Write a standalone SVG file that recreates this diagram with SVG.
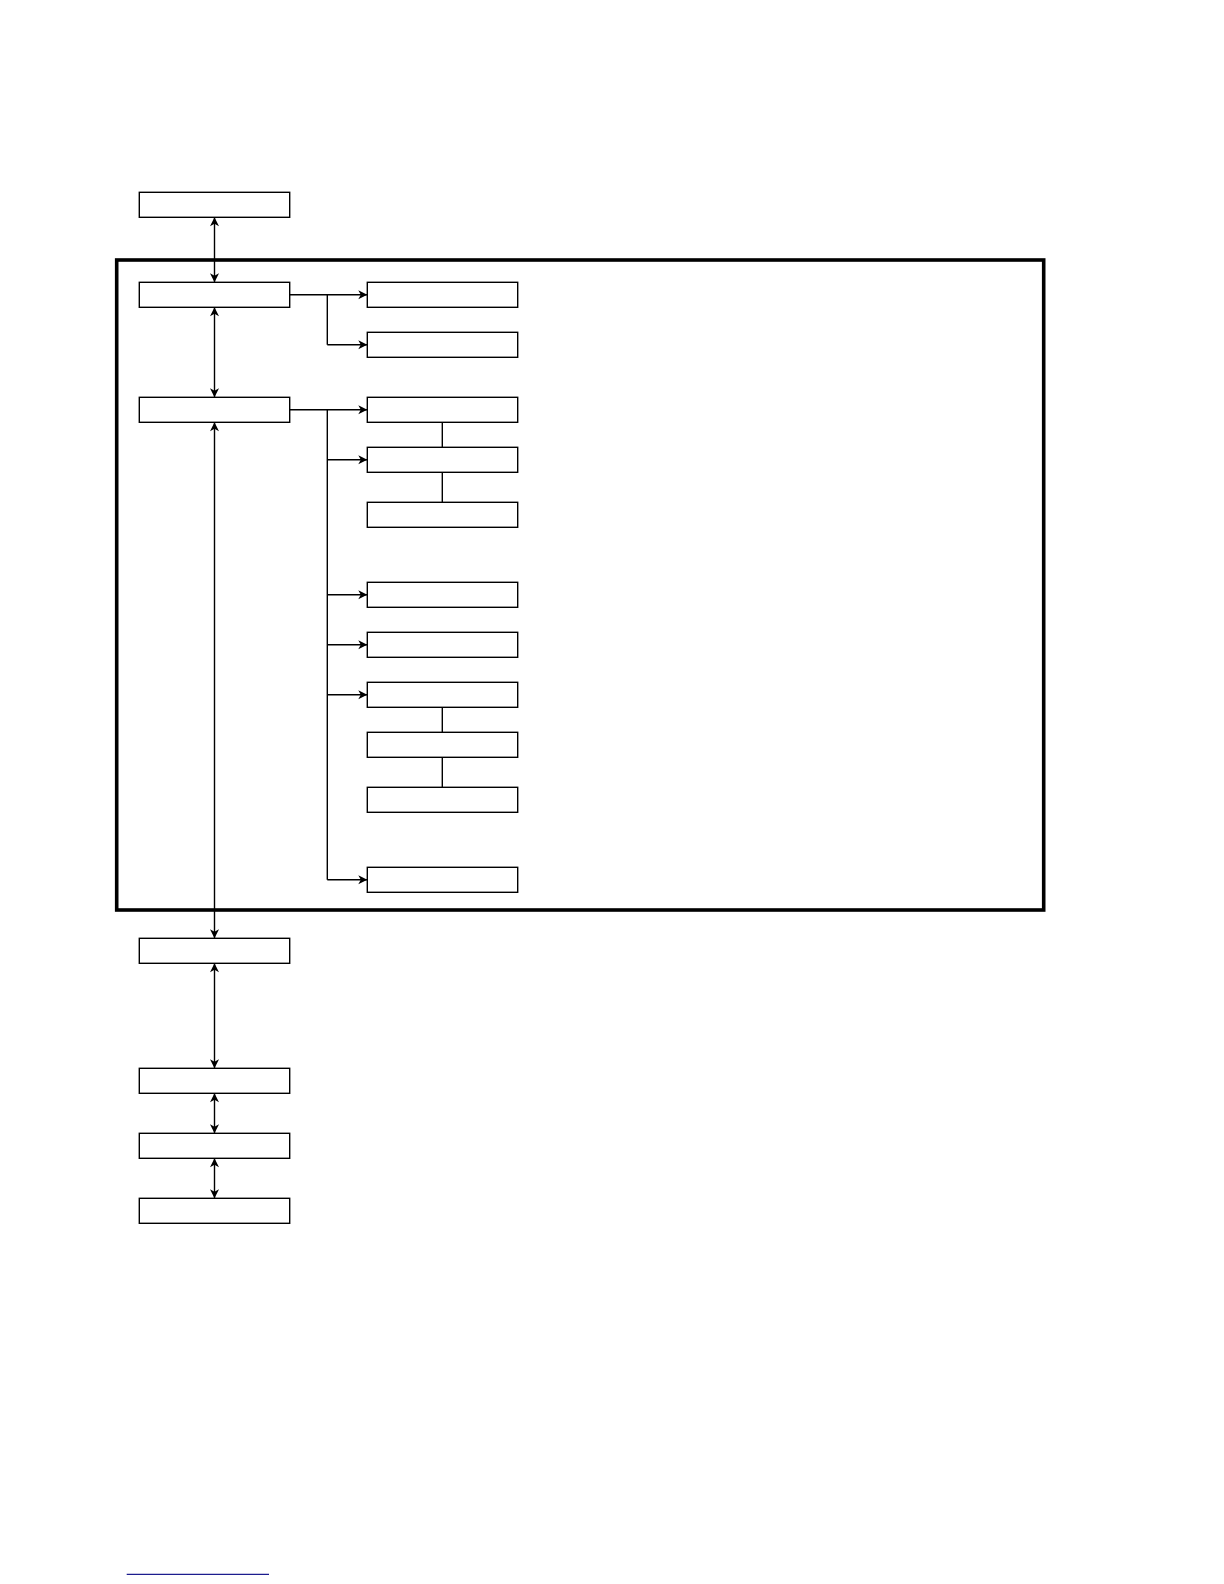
<svg xmlns="http://www.w3.org/2000/svg" width="1224" height="1584" viewBox="0 0 1224 1584">
<style>
.box{fill:#fff;stroke:#000;stroke-width:1.4}
.ln{fill:none;stroke:#000;stroke-width:1.4}
.arr{marker-end:url(#ah)}
.dbl{marker-start:url(#ah);marker-end:url(#ah)}
</style>
<defs>
<marker id="ah" markerUnits="userSpaceOnUse" viewBox="-10 -6 12 12" refX="0" refY="0" markerWidth="12" markerHeight="12" orient="auto-start-reverse">
<path d="M0,0 L-9,-4.5 L-6.5,0 L-9,4.5 Z" fill="#000"/>
</marker>
</defs>
<rect x="0" y="0" width="1224" height="1584" fill="#fff"/>
<g id="frame"><rect x="116.7" y="260" width="927" height="650" fill="none" stroke="#000" stroke-width="3.6"/></g>
<g id="connectors">
<line class="ln dbl" x1="214.5" y1="217.3" x2="214.5" y2="282.3"/>
<line class="ln dbl" x1="214.5" y1="307.3" x2="214.5" y2="397.3"/>
<line class="ln dbl" x1="214.5" y1="422.3" x2="214.5" y2="938.3"/>
<line class="ln dbl" x1="214.5" y1="963.3" x2="214.5" y2="1068.3"/>
<line class="ln dbl" x1="214.5" y1="1093.3" x2="214.5" y2="1133.3"/>
<line class="ln dbl" x1="214.5" y1="1158.3" x2="214.5" y2="1198.3"/>
<polyline class="ln" points="289.7,294.8 327.3,294.8 327.3,344.8"/>
<line class="ln arr" x1="327.3" y1="294.8" x2="367.3" y2="294.8"/>
<line class="ln arr" x1="327.3" y1="344.8" x2="367.3" y2="344.8"/>
<polyline class="ln" points="289.7,409.8 327.3,409.8 327.3,879.8"/>
<line class="ln arr" x1="327.3" y1="409.8" x2="367.3" y2="409.8"/>
<line class="ln arr" x1="327.3" y1="459.8" x2="367.3" y2="459.8"/>
<line class="ln arr" x1="327.3" y1="594.8" x2="367.3" y2="594.8"/>
<line class="ln arr" x1="327.3" y1="644.8" x2="367.3" y2="644.8"/>
<line class="ln arr" x1="327.3" y1="694.8" x2="367.3" y2="694.8"/>
<line class="ln arr" x1="327.3" y1="879.8" x2="367.3" y2="879.8"/>
<line class="ln" x1="442.3" y1="422.3" x2="442.3" y2="447.3"/>
<line class="ln" x1="442.3" y1="472.3" x2="442.3" y2="502.3"/>
<line class="ln" x1="442.3" y1="707.3" x2="442.3" y2="732.3"/>
<line class="ln" x1="442.3" y1="757.3" x2="442.3" y2="787.3"/>
</g>
<g id="nodeA"><rect class="box" x="139.3" y="192.3" width="150.4" height="25"/></g>
<g id="nodeB"><rect class="box" x="139.3" y="282.3" width="150.4" height="25"/></g>
<g id="nodeC"><rect class="box" x="139.3" y="397.3" width="150.4" height="25"/></g>
<g id="nodeD"><rect class="box" x="139.3" y="938.3" width="150.4" height="25"/></g>
<g id="nodeE"><rect class="box" x="139.3" y="1068.3" width="150.4" height="25"/></g>
<g id="nodeF"><rect class="box" x="139.3" y="1133.3" width="150.4" height="25"/></g>
<g id="nodeG"><rect class="box" x="139.3" y="1198.3" width="150.4" height="25"/></g>
<g id="nodeR1"><rect class="box" x="367.3" y="282.3" width="150.4" height="25"/></g>
<g id="nodeR2"><rect class="box" x="367.3" y="332.3" width="150.4" height="25"/></g>
<g id="nodeR3"><rect class="box" x="367.3" y="397.3" width="150.4" height="25"/></g>
<g id="nodeR4"><rect class="box" x="367.3" y="447.3" width="150.4" height="25"/></g>
<g id="nodeR5"><rect class="box" x="367.3" y="502.3" width="150.4" height="25"/></g>
<g id="nodeR6"><rect class="box" x="367.3" y="582.3" width="150.4" height="25"/></g>
<g id="nodeR7"><rect class="box" x="367.3" y="632.3" width="150.4" height="25"/></g>
<g id="nodeR8"><rect class="box" x="367.3" y="682.3" width="150.4" height="25"/></g>
<g id="nodeR9"><rect class="box" x="367.3" y="732.3" width="150.4" height="25"/></g>
<g id="nodeR10"><rect class="box" x="367.3" y="787.3" width="150.4" height="25"/></g>
<g id="nodeR11"><rect class="box" x="367.3" y="867.3" width="150.4" height="25"/></g>
<line x1="126.7" y1="1574.3" x2="269" y2="1574.3" stroke="#1c1c8e" stroke-width="1.2"/>
</svg>
